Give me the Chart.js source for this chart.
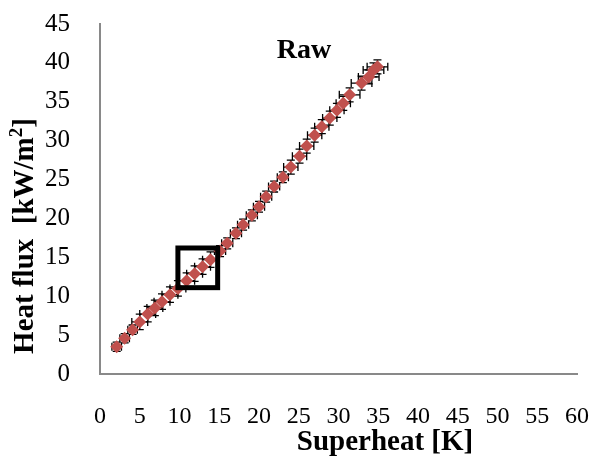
<!DOCTYPE html>
<html>
<head>
<meta charset="utf-8">
<script src="https://cdn.jsdelivr.net/npm/chart.js@4"></script>
<style>
  html, body { margin: 0; padding: 0; background: #fff; }
  #wrap { width: 592px; height: 458px; }
</style>
</head>
<body>
<div id="wrap"><canvas id="chart" width="592" height="458"></canvas></div>
<script>
// superheat [K] and heat flux [kW/m2]
const superheat = [2.1, 3.1, 4.1, 5.0, 6.0, 6.9, 7.8, 8.8, 9.8, 10.9, 11.9, 12.9, 13.9, 15.1, 16.0, 17.1, 18.0, 19.1,
    20.0, 20.9, 21.9, 23.0, 24.0, 25.1, 26.0, 27.0, 27.9, 28.9, 29.8, 30.6, 31.4, 32.9, 33.8, 34.4, 34.9];
const heatFlux = [3.5, 4.6, 5.7, 6.7, 7.7, 8.5, 9.3, 10.2, 11.0, 12.0, 12.9, 13.8, 14.7, 15.8, 16.8, 18.1, 19.2, 20.4,
    21.5, 22.8, 24.1, 25.3, 26.6, 28.0, 29.3, 30.7, 31.8, 32.9, 33.9, 34.8, 35.9, 37.4, 38.2, 39.1, 39.5];
// error bar half widths
const superheatErr = [0.6, 0.6, 0.6, 1.0, 1.0, 1.0, 1.0, 1.0, 1.0, 1.0, 1.0, 1.0, 1.0, 0.7, 0.7, 0.7, 0.7, 0.7,
    0.7, 0.7, 0.7, 0.7, 0.9, 0.9, 0.9, 0.9, 0.9, 0.9, 0.9, 0.9, 1.3, 1.3, 1.3, 1.3, 1.3];
const heatFluxErr = [0.6, 0.6, 0.6, 1.0, 1.0, 1.0, 1.0, 1.0, 1.0, 1.0, 1.0, 1.0, 1.0, 0.7, 0.7, 0.7, 0.7, 0.7,
    0.7, 0.7, 0.7, 0.7, 0.9, 0.9, 0.9, 0.9, 0.9, 0.9, 0.9, 0.9, 0.9, 0.9, 0.9, 0.9, 0.9];
// highlighted region (data units)
const boxX = [9.8, 14.8];
const boxY = [11.1, 16.2];

const xTicks = [0, 5, 10, 15, 20, 25, 30, 35, 40, 45, 50, 55, 60];
const yTicks = [0, 5, 10, 15, 20, 25, 30, 35, 40, 45];

const serif = "'Liberation Serif', 'Times New Roman', serif";
Chart.defaults.font.family = serif;
Chart.defaults.color = '#000';

const points = superheat.map((x, i) => ({ x, y: heatFlux[i] }));

const errorBars = {
    id: 'errorBars',
    beforeDatasetsDraw(chart) {
        const { ctx, scales: { x, y } } = chart;
        const cap = 4;
        ctx.save();
        ctx.strokeStyle = '#000';
        ctx.lineWidth = 1.3;
        points.forEach((p, i) => {
            const px = x.getPixelForValue(p.x), py = y.getPixelForValue(p.y);
            const x0 = x.getPixelForValue(p.x - superheatErr[i]), x1 = x.getPixelForValue(p.x + superheatErr[i]);
            const y0 = y.getPixelForValue(p.y - heatFluxErr[i]), y1 = y.getPixelForValue(p.y + heatFluxErr[i]);
            ctx.beginPath();
            ctx.moveTo(x0, py); ctx.lineTo(x1, py);
            ctx.moveTo(x0, py - cap); ctx.lineTo(x0, py + cap);
            ctx.moveTo(x1, py - cap); ctx.lineTo(x1, py + cap);
            ctx.moveTo(px, y0); ctx.lineTo(px, y1);
            ctx.moveTo(px - cap, y0); ctx.lineTo(px + cap, y0);
            ctx.moveTo(px - cap, y1); ctx.lineTo(px + cap, y1);
            ctx.stroke();
        });
        ctx.restore();
    }
};

const extras = {
    id: 'extras',
    afterDatasetsDraw(chart) {
        const { ctx, scales: { x, y } } = chart;
        ctx.save();
        ctx.strokeStyle = '#000';
        ctx.lineWidth = 5;
        const l = x.getPixelForValue(boxX[0]), r = x.getPixelForValue(boxX[1]);
        const t = y.getPixelForValue(boxY[1]), b = y.getPixelForValue(boxY[0]);
        ctx.strokeRect(l, t, r - l, b - t);
        ctx.restore();
    },
    afterDraw(chart) {
        const { ctx } = chart;
        ctx.save();
        ctx.fillStyle = '#000';

        ctx.font = 'bold 28px ' + serif;
        ctx.textAlign = 'center';
        ctx.textBaseline = 'alphabetic';
        ctx.fillText('Raw', 304, 58);

        ctx.font = 'bold 29px ' + serif;
        ctx.fillText('Superheat [K]', 385, 450);

        // rotated y title with superscript
        const main = 'Heat flux  [kW/m';
        ctx.font = 'bold 29px ' + serif;
        const w1 = ctx.measureText(main).width;
        const w3 = ctx.measureText(']').width;
        ctx.font = 'bold 19px ' + serif;
        const w2 = ctx.measureText('2').width;
        const total = w1 + w2 + w3;
        ctx.translate(33, 236);
        ctx.rotate(-Math.PI / 2);
        ctx.textAlign = 'left';
        const s = -total / 2;
        ctx.font = 'bold 29px ' + serif;
        ctx.fillText(main, s, 0);
        ctx.font = 'bold 19px ' + serif;
        ctx.fillText('2', s + w1, -11);
        ctx.font = 'bold 29px ' + serif;
        ctx.fillText(']', s + w1 + w2, 0);
        ctx.restore();
    }
};

new Chart(document.getElementById('chart'), {
    type: 'scatter',
    data: {
        datasets: [{
            data: points,
            pointStyle: 'rectRot',
            pointRadius: 6.5,
            pointHoverRadius: 6.5,
            backgroundColor: '#C0504D',
            borderColor: '#C0504D',
            borderWidth: 0,
            showLine: false
        }]
    },
    options: {
        responsive: false,
        animation: false,
        events: [],
        layout: { padding: { left: 0, right: 15, top: 24, bottom: 0 } },
        plugins: { legend: { display: false }, tooltip: { enabled: false } },
        scales: {
            x: {
                type: 'linear', min: 0, max: 60,
                afterFit: s => { s.height = 84; s.paddingLeft = 0; s.paddingRight = 0; },
                afterBuildTicks: s => { s.ticks = xTicks.map(v => ({ value: v })); },
                grid: { display: false },
                border: { display: true, color: '#898989', width: 2 },
                ticks: { color: '#000', padding: 20, maxRotation: 0, autoSkip: false, font: { family: serif, size: 24 } }
            },
            y: {
                type: 'linear', min: 0, max: 45,
                afterFit: s => { s.width = 100; s.paddingTop = 0; s.paddingBottom = 0; },
                afterBuildTicks: s => { s.ticks = yTicks.map(v => ({ value: v })); },
                grid: { display: false },
                border: { display: true, color: '#898989', width: 2 },
                ticks: { color: '#000', padding: 22, autoSkip: false, font: { family: serif, size: 25 } }
            }
        }
    },
    plugins: [errorBars, extras]
});
</script>
</body>
</html>
